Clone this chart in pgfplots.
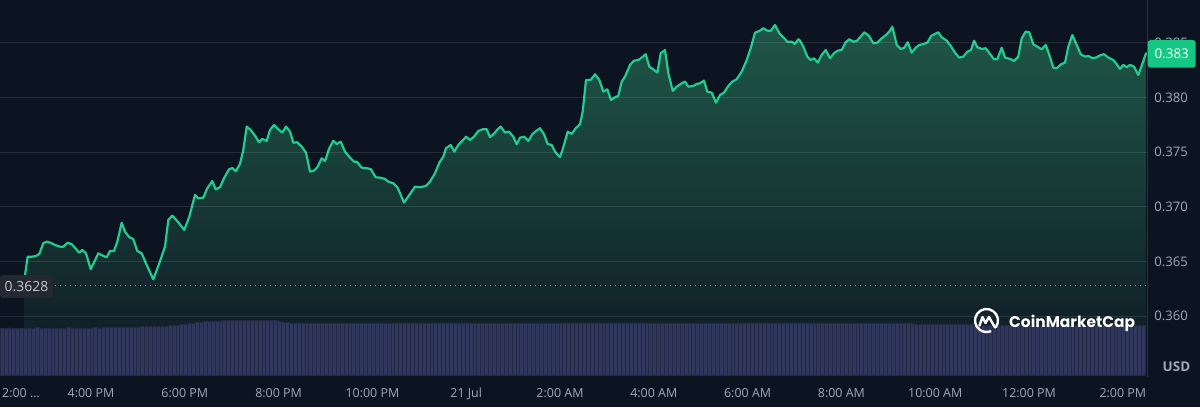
\documentclass[border=0pt]{standalone}
\usepackage{fontspec}
\setmainfont{Open Sans}
\newfontfamily\cmcfont{Poppins}
\usepackage{pgfplots}
\usepackage{pgfplotstable}
\pgfplotsset{compat=1.18}

\definecolor{bg}{HTML}{0D1421}
\definecolor{tick}{HTML}{A1A7BB}
\definecolor{cmcgreen}{HTML}{16C784}
\definecolor{linegreen}{HTML}{22CE8F}
\definecolor{filltop}{HTML}{1F5747}
\definecolor{fillbot}{HTML}{0E1824}
\definecolor{vol}{HTML}{2F375C}
\definecolor{voledge}{HTML}{232944}
\definecolor{openbox}{HTML}{242832}
\definecolor{opentext}{HTML}{C3C7D0}
\definecolor{dots}{HTML}{8A8F9A}
\definecolor{axisline}{HTML}{2A303C}

% price line: x = horizontal position (2 h = 93.8 units, 4:00 PM at 91), y = price in USD
\pgfplotstableread{
x y
23.5 0.36280
27.7 0.36543
31.7 0.36543
36 0.36549
39.3 0.36568
43.3 0.36666
46.7 0.36680
50.7 0.36671
55 0.36650
60 0.36635
63.3 0.36635
67.7 0.36671
71.7 0.36657
75 0.36625
79 0.36580
82.3 0.36604
86 0.36574
90.7 0.36428
94.3 0.36497
98.3 0.36574
103.3 0.36549
106.7 0.36538
110 0.36595
114 0.36595
117.3 0.36680
121.7 0.36854
125 0.36772
129.3 0.36721
133.3 0.36705
137.3 0.36595
141.7 0.36574
146.7 0.36467
153.3 0.36336
159.3 0.36483
165 0.36635
168.3 0.36879
172.3 0.36919
178.3 0.36858
184.3 0.36788
189.3 0.36909
195 0.37108
198.3 0.37078
203.3 0.37083
207.3 0.37169
212.3 0.37236
215.7 0.37160
220 0.37179
224 0.37261
229 0.37343
232.3 0.37355
235.7 0.37325
240 0.37392
243.3 0.37520
246.7 0.37734
250.7 0.37703
255 0.37651
259 0.37591
262.3 0.37621
266.7 0.37603
270 0.37703
274 0.37749
278.3 0.37710
282.3 0.37679
286 0.37734
290 0.37688
293.3 0.37587
297.3 0.37591
301.7 0.37550
306 0.37496
310 0.37322
314 0.37331
317.3 0.37362
321.7 0.37444
325 0.37419
329.3 0.37536
333.3 0.37605
336.7 0.37575
340.7 0.37596
345 0.37505
350 0.37450
354 0.37413
356.7 0.37413
361.7 0.37358
366.7 0.37353
370.7 0.37346
375.7 0.37270
380 0.37267
385 0.37255
388.3 0.37230
393.3 0.37215
397.3 0.37179
400 0.37124
404 0.37038
409.3 0.37108
415 0.37184
420 0.37179
426 0.37191
430 0.37230
435 0.37307
439.3 0.37404
443.3 0.37459
446 0.37536
450.7 0.37566
454.3 0.37505
458.3 0.37566
462.3 0.37603
466 0.37642
470 0.37612
474 0.37642
478.3 0.37694
482.7 0.37710
486.7 0.37710
490 0.37637
494.3 0.37673
497.7 0.37710
500.7 0.37734
505 0.37679
509 0.37688
513.3 0.37642
516.7 0.37572
520 0.37633
524.3 0.37642
528.3 0.37603
532.3 0.37664
536 0.37694
540 0.37719
544 0.37664
547.7 0.37575
551.7 0.37566
555 0.37505
560 0.37453
563.3 0.37545
567.7 0.37688
571.7 0.37667
575.7 0.37719
580 0.37756
582.7 0.37871
586 0.38161
590.7 0.38161
595 0.38213
599.3 0.38161
603.3 0.38054
607.3 0.38076
611 0.37978
615 0.38003
618.3 0.38015
621.7 0.38146
625 0.38192
630 0.38299
634 0.38338
638.3 0.38344
641.7 0.38366
645.7 0.38397
649.3 0.38283
653.3 0.38259
657.3 0.38228
660.7 0.38406
665 0.38436
668.3 0.38223
672.7 0.38061
676.7 0.38100
681.7 0.38131
685 0.38146
688.3 0.38100
693.3 0.38106
696.7 0.38125
700 0.38131
704 0.38155
707.3 0.38054
711.7 0.38045
716 0.37953
720 0.38024
724 0.38045
728.3 0.38106
732.3 0.38146
736.7 0.38168
741.7 0.38237
746.7 0.38344
750.7 0.38452
755 0.38594
760 0.38613
763.3 0.38635
767.3 0.38613
771 0.38613
775 0.38665
779.3 0.38589
783.3 0.38552
787.3 0.38512
791.7 0.38512
795 0.38491
798.3 0.38534
800 0.38521
803.3 0.38466
807.3 0.38375
810.7 0.38344
814 0.38360
817.7 0.38320
821.7 0.38390
825.7 0.38436
830 0.38360
834 0.38406
837.7 0.38430
841.7 0.38436
845.7 0.38507
849.3 0.38534
853.3 0.38512
856.7 0.38518
860.7 0.38558
864.3 0.38598
869 0.38564
873.3 0.38497
877.3 0.38503
881.7 0.38543
886 0.38573
889.3 0.38604
892.3 0.38649
896.7 0.38482
900.7 0.38445
904.3 0.38457
907.7 0.38507
911.7 0.38411
915.7 0.38457
919.3 0.38482
924 0.38491
927.7 0.38507
931 0.38564
935 0.38583
938.3 0.38598
941.7 0.38552
946.7 0.38521
950.7 0.38473
955 0.38411
959 0.38366
963.3 0.38375
967.3 0.38420
971 0.38436
974 0.38521
977.3 0.38461
981.7 0.38445
985.7 0.38452
990 0.38399
994 0.38351
997.3 0.38351
1001.7 0.38457
1005 0.38366
1010 0.38354
1014 0.38335
1018.3 0.38375
1021.7 0.38543
1025.7 0.38604
1029.3 0.38598
1033.3 0.38488
1037.3 0.38466
1041.7 0.38442
1045.7 0.38482
1049.3 0.38390
1053.3 0.38274
1056.7 0.38268
1061 0.38305
1065 0.38320
1068.3 0.38466
1072.3 0.38573
1076.7 0.38482
1080.7 0.38397
1085 0.38375
1088.3 0.38381
1092.7 0.38360
1096.7 0.38369
1100.7 0.38390
1104 0.38397
1108.3 0.38366
1113.3 0.38344
1116.7 0.38305
1120 0.38262
1123.3 0.38299
1126.7 0.38278
1130 0.38299
1134 0.38283
1138.3 0.38207
1142.3 0.38308
1146 0.38406
}\pricedata

% volume per 5-minute bucket (chart units)
\pgfplotstableread[row sep=\\]{
v\\
47\\46.9\\47.1\\47\\46.8\\47\\47.1\\46.9\\47\\47.2\\
47\\46.9\\47\\47.1\\47\\46.8\\47\\47.2\\47.1\\47\\
47\\47.1\\46.9\\47\\47.2\\47.1\\47.2\\47.3\\47.2\\47.4\\47.5\\
47.6\\47.7\\47.9\\48\\48.1\\48.3\\48.4\\48.5\\48.6\\48.7\\48.8\\49\\49.2\\
49.5\\50\\50.5\\51\\51.5\\52\\52.3\\
52.8\\53.2\\53.5\\53.7\\53.9\\54.1\\
54.3\\54.2\\54.3\\54.4\\54.3\\54.3\\54.2\\54.4\\54.3\\54.5\\54.4\\54.6\\54.8\\54.6\\
53.6\\52.9\\52.5\\
51.9\\52\\51.8\\51.9\\52.1\\51.9\\51.8\\52\\51.9\\51.9\\
52\\51.9\\51.8\\52\\52.1\\51.9\\51.9\\52\\51.8\\51.9\\
51.9\\52\\51.8\\51.9\\52.1\\51.9\\51.8\\52\\51.9\\51.9\\
52\\51.9\\51.8\\52\\52.1\\51.9\\51.9\\52\\51.8\\51.9\\
51.9\\52\\51.8\\51.9\\52.1\\51.9\\51.8\\52\\51.9\\51.9\\
52\\51.9\\51.8\\52\\52.1\\51.9\\51.9\\52\\51.8\\51.9\\
51.9\\52\\51.8\\51.9\\52.1\\51.9\\51.8\\52\\51.9\\51.9\\
52\\51.9\\51.8\\52\\52.1\\51.9\\51.9\\52\\51.8\\51.9\\
51.9\\52\\51.8\\51.9\\52.1\\51.9\\51.8\\52\\51.9\\51.9\\
52\\51.9\\51.8\\52\\52.1\\51.9\\51.9\\52\\51.8\\51.9\\
51.9\\52\\51.8\\51.9\\52.1\\51.9\\51.8\\52\\51.9\\51.9\\
52\\51.9\\51.8\\52\\52.1\\51.9\\51.9\\52\\51.8\\51.9\\
51.9\\52\\51.8\\51.9\\52.1\\51.9\\51.8\\52\\51.9\\51.9\\
52\\51.9\\51.8\\52\\52.1\\51.9\\51.9\\52\\51.8\\51.9\\
51.9\\52\\51.8\\51.9\\52.1\\51.9\\51.8\\52\\51.9\\51.9\\
52\\51.9\\51.8\\52\\52.1\\51.9\\51.9\\52\\51.8\\51.9\\
50.8\\50.8\\50.7\\50.9\\50.7\\50.8\\50.6\\50.7\\50.8\\50.6\\50.7\\50.5\\50.6\\50.5\\50.4\\
49.4\\49.3\\49.5\\49.4\\49.3\\49.4\\49.5\\49.3\\49.4\\49.4\\
49.4\\49.3\\49.5\\49.4\\49.3\\49.4\\49.5\\49.3\\49.4\\49.4\\
49.4\\49.3\\49.5\\49.4\\49.3\\49.4\\49.5\\49.3\\49.4\\49.4\\
49.4\\49.3\\49.5\\49.4\\49.3\\49.4\\49.5\\49.3\\49.4\\49.4\\
49.4\\49.3\\49.4\\49.2\\
}\voldata

\begin{document}
\begin{tikzpicture}[x=1bp,y=1bp]
\fill[bg] (0,0) rectangle (1200,407);
\useasboundingbox (0,0) rectangle (1200,407);

% gradient backdrop for the area under the price line
\shade[top color=filltop, bottom color=fillbot] (24.5,32) rectangle (1145.5,382);

\begin{axis}[
  at={(0bp,32bp)}, anchor=south west,
  scale only axis, width=1147.7bp, height=375bp,
  xmin=0, xmax=1147.7, ymin=0.3545971, ymax=0.3889377,
  axis line style={draw=none},
  axis on top,
  ymajorgrids,
  grid style={white, opacity=0.1, line width=1bp},
  major tick length=0pt, tick style={draw=none},
  ytick={0.360,0.365,0.370,0.375,0.380,0.385},
  yticklabels={0.360,0.365,0.370,0.375,0.380,0.385},
  yticklabel pos=right,
  yticklabel style={anchor=west, inner sep=0pt, xshift=6.5bp, text=tick,
    font=\fontsize{13.2}{15}\selectfont},
  xtick={21,91,184.8,278.6,372.4,466.2,560,653.8,747.6,841.4,935.2,1029,1122.8},
  xticklabels={2:00 …,4:00 PM,6:00 PM,8:00 PM,10:00 PM,21 Jul,2:00 AM,4:00 AM,6:00 AM,8:00 AM,10:00 AM,12:00 PM,2:00 PM},
  xticklabel style={anchor=base, inner sep=0pt, yshift=-22.3bp, text=tick,
    font=\fontsize{12.5}{15}\selectfont},
]
% mask the part above the price line with the background
\addplot[fill=bg, draw=bg, line width=1.5bp, forget plot] table[x=x,y=y] {\pricedata}
  -- (axis cs:1146,0.3889377) -- (axis cs:23.5,0.3889377) -- cycle;
\draw[dots, line width=1.1bp, dash pattern=on 1.3bp off 3.7bp] (axis cs:0,0.3628) -- (axis cs:1147.7,0.3628);
\addplot[linegreen, line width=2.2bp, line join=round, line cap=round] table[x=x,y=y] {\pricedata};
\end{axis}

\begin{axis}[
  at={(0bp,32bp)}, anchor=south west,
  scale only axis, width=1147.7bp, height=375bp,
  xmin=0, xmax=1147.7, ymin=0, ymax=375,
  hide axis,
]
\addplot[ybar, bar width=3.908bp, bar shift=0pt, fill=vol, draw=voledge, line width=0.7bp]
 table[x expr={2+3.908*\coordindex}, y=v] {\voldata};
\end{axis}

% right axis line
\draw[axisline, line width=1bp] (1147.7,30) -- (1147.7,407);

% open price label
\node[fill=openbox, rounded corners=3bp, anchor=west, text=opentext, inner xsep=4.5bp,
  minimum height=23bp, font=\fontsize{14}{16}\selectfont] at (0,120.5) {0.3628};

% current price label
\node[fill=cmcgreen, rounded corners=3bp, text=white, inner sep=0pt,
  minimum width=48bp, minimum height=27.7bp, font=\fontsize{13.5}{16}\selectfont]
  at (1171.7,353.15) {0.383};

% currency
\node[text=tick, font=\fontsize{13.5}{16}\selectfont\bfseries] at (1176.5,40) {USD};

% watermark
\begin{scope}[shift={(986.5,86.5)}, white, line width=2.4bp, line cap=round, line join=round]
\draw (-35:11.5) arc[start angle=-35, end angle=290, radius=11.5];
\draw (-7,-5) -- (-4,3.5) -- (-1,-2.5) -- (2.5,3.5) -- (5,-1) -- (8.5,-7);
\end{scope}
\node[anchor=base west, text=white, inner sep=0pt, font=\cmcfont\fontsize{15.5}{18}\selectfont\bfseries]
  at (1009,79.7) {CoinMarketCap};
\end{tikzpicture}
\end{document}
